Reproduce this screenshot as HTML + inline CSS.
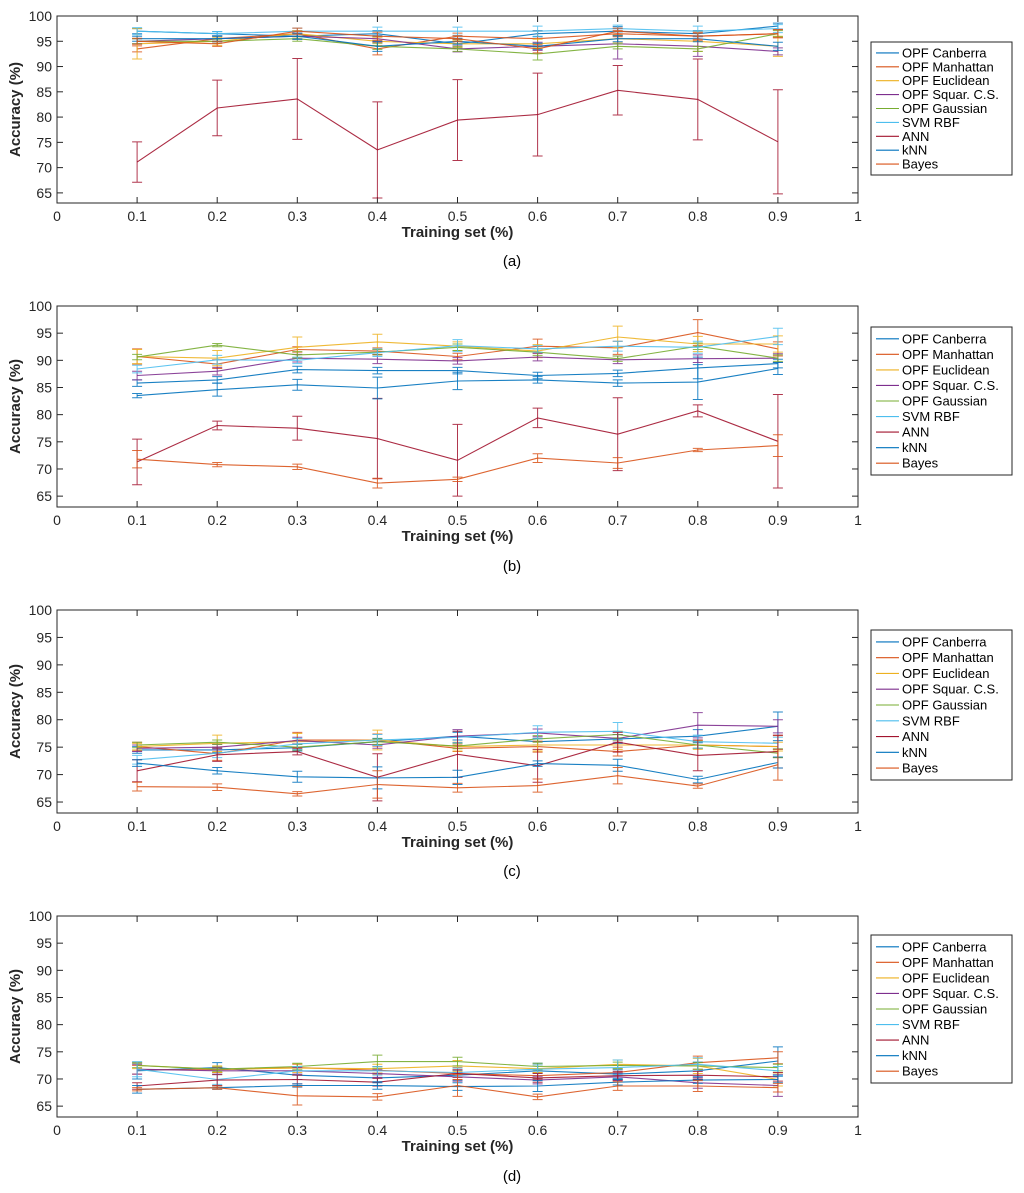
<!DOCTYPE html>
<html><head><meta charset="utf-8"><style>
body{margin:0;background:#fff;width:1024px;height:1193px;overflow:hidden}
svg{display:block}
text{font-family:"Liberation Sans",sans-serif}
</style></head><body>
<svg id="chart" width="1024" height="1193" xmlns="http://www.w3.org/2000/svg"></svg>
<script>
const xTicks=[0,0.1,0.2,0.3,0.4,0.5,0.6,0.7,0.8,0.9,1];
const xLabels=["0","0.1","0.2","0.3","0.4","0.5","0.6","0.7","0.8","0.9","1"];
const yTicks=[65,70,75,80,85,90,95,100];
const trainX=[0.1,0.2,0.3,0.4,0.5,0.6,0.7,0.8,0.9];
const seriesNames=["OPF Canberra","OPF Manhattan","OPF Euclidean","OPF Squar. C.S.","OPF Gaussian","SVM RBF","ANN","kNN","Bayes"];
const seriesColors=["#0072BD","#D95319","#EDB120","#7E2F8E","#77AC30","#4DBEEE","#A2142F","#0072BD","#D95319"];
const captions=["(a)","(b)","(c)","(d)"];
// panel (a)
const aVals=[
[97,96.5,96,96.5,94.5,96.5,97,96.5,98],
[93.5,95.5,96.5,93.5,96,95.5,96.5,96,96.5],
[94.5,95,96.5,95,94.5,94.5,95.5,95,94],
[95,95.5,96,95.5,93.5,94,94.5,94,93],
[95,95,95.5,94,93.5,92.5,94,93.5,96.5],
[97,96.5,97,97,97,97,97.5,97,97.5],
[71.1,81.8,83.6,73.5,79.4,80.5,85.3,83.5,75.1],
[95.5,95.5,96,94,95,94,95.5,95.5,94],
[95,94.5,97,96,95.5,93.5,97,96,96.5]];
const aErr=[
[0.5,0.4,0.5,0.6,0.8,0.6,0.9,0.6,0.6],
[0.6,0.5,0.6,1.2,0.6,1.5,0.6,0.8,0.8],
[3,0.8,0.6,0.8,0.7,0.9,0.7,2,2],
[0.5,0.6,0.6,0.6,0.6,0.8,3,2,0.7],
[0.5,0.4,0.5,0.6,0.5,1.2,0.5,0.5,0.6],
[0.7,0.4,0.6,0.8,0.8,1,0.7,1,0.8],
[4,5.5,8,9.5,8,8.2,4.9,8,10.3],
[0.5,0.5,0.6,1,0.6,0.6,0.6,0.6,0.8],
[0.6,0.5,0.6,0.8,0.6,0.8,0.6,0.6,0.8]];
// panel (b)
const bVals=[
[85.8,86.4,88.3,88.1,88.1,87.2,87.6,88.6,89.4],
[90.7,89.3,92,91.7,90.7,92.6,92.3,95.1,92.1],
[90.7,90.4,92.4,93.4,92.6,91.7,94.3,93,93],
[87.2,88,90.4,90.2,89.9,90.6,90.1,90.3,90.4],
[90.6,92.8,91,91.5,92.4,91.5,90.3,92.6,90.4],
[88.4,90.1,90,91.4,92.7,92.1,92.6,92.4,94.4],
[71.3,78,77.5,75.6,71.6,79.4,76.4,80.7,75.1],
[83.5,84.6,85.5,84.9,86.2,86.4,85.8,86,88.5],
[71.8,70.8,70.4,67.4,68.1,72,71.1,73.5,74.3]];
const bErr=[
[0.6,0.6,0.6,0.6,0.6,0.6,0.6,2,0.8],
[1.4,0.8,0.5,0.6,0.6,1.3,1.2,2.4,1.3],
[1.3,1.4,1.9,1.4,0.8,1.2,2,1.4,1.5],
[0.8,0.7,0.7,0.8,0.6,0.7,0.7,0.7,0.8],
[0.5,0.3,0.6,0.5,0.6,0.6,0.5,0.6,0.6],
[0.7,0.8,0.6,0.7,1.1,0.6,0.9,1.1,1.5],
[4.2,0.8,2.2,7.4,6.6,1.8,6.7,1.1,8.6],
[0.4,1.2,1,2,1.6,0.6,0.6,3.2,1.1],
[1.6,0.4,0.5,0.9,0.4,0.8,1,0.3,2]];
// panel (c)
const cVals=[
[74.5,74.5,74.9,76,77,76,76.5,77,78.8],
[75.1,73.8,76.3,76.3,74.8,75.1,74.2,75.4,75.1],
[75.1,75.7,76,76.3,75.1,75.4,75.4,75.4,75.1],
[74.8,75,76.2,75.4,77,77.6,76.6,79,78.8],
[75.4,75.9,75,76,75.2,76.5,77.3,75.4,73.9],
[72.7,73.9,75.6,76.3,76.8,77.7,77.9,76,75.7],
[70.7,73.6,74.2,69.5,73.7,71.6,75.9,73.5,74.2],
[72.1,70.7,69.6,69.4,69.5,72,71.7,69.1,72.2],
[67.8,67.7,66.5,68.2,67.6,68,69.8,67.9,71.8]];
const cErr=[
[0.6,0.5,0.6,0.6,0.7,0.6,0.8,1.2,2.6],
[0.8,1.2,1.4,1.1,0.6,1,0.8,0.6,2],
[0.6,1.5,1.5,1.8,0.8,1.1,0.8,0.8,0.8],
[0.6,0.5,0.6,0.6,1.2,0.7,0.7,2.3,1.2],
[0.5,0.4,0.5,0.5,0.5,0.6,0.6,0.6,0.8],
[0.8,0.8,1,1,1,1.2,1.6,1.2,1.1],
[2,1.2,0.6,4.3,4.2,3,1.8,2.8,3],
[0.6,0.6,1,2,1.3,0.5,1.1,0.6,1],
[0.8,0.6,0.4,2.5,0.8,1.2,1.5,0.4,2.8]];
// panel (d)
const dVals=[
[71.5,72.1,70.7,70.2,70.7,71.5,70.9,71.5,73.3],
[71.7,71.7,72.1,71.6,71,70.6,71.2,73,73.9],
[72.5,71.8,72,71.9,72.4,71.9,72.7,72.4,69.9],
[71.8,71.5,71.5,71,70.4,69.8,70.4,69.3,68.8],
[72.5,71.8,72.3,73.2,73.2,72.3,72.5,72.4,72.1],
[71.8,69.9,71.5,71.5,71.2,71.8,72.1,72.7,71.5],
[68.7,69.8,69.9,69.4,71,70.2,70.6,70.7,70.4],
[68.1,68.4,68.8,68.8,68.6,68.7,69.4,69.8,69.9],
[68.1,68.4,66.9,66.7,68.8,66.7,68.7,68.7,68.4]];
const dErr=[
[1.5,0.9,0.8,0.9,0.9,1.4,0.8,1.6,2.6],
[0.8,0.5,0.6,0.7,1.1,0.6,1.3,1.2,1.1],
[0.6,0.6,0.8,0.8,1,0.7,0.8,1.4,1.2],
[0.9,0.6,0.6,0.7,0.8,0.7,0.7,1,2],
[0.4,0.4,0.6,1.2,0.8,0.6,0.6,0.6,0.6],
[1.4,0.9,0.8,0.8,0.8,0.8,1.4,1.2,0.8],
[0.6,1,0.8,0.7,0.7,0.8,0.8,0.7,0.8],
[0.7,0.3,0.3,0.7,0.7,1,0.5,0.6,0.6],
[0.3,0.3,1.7,0.6,2,0.5,0.8,1,0.8]];
const panelVals=[aVals,bVals,cVals,dVals];
const panelErr=[aErr,bErr,cErr,dErr];
const panels=[
 {top:16,bottom:203,legTop:42,legBottom:175,cap:266},
 {top:306,bottom:507,legTop:327,legBottom:475,cap:571},
 {top:610,bottom:813,legTop:630,legBottom:780,cap:876},
 {top:916,bottom:1117,legTop:935,legBottom:1083,cap:1181}];
const NS="http://www.w3.org/2000/svg";
const svg=document.getElementById('chart');
const L=57,R=858,YMIN=63,YMAX=100;
function mk(tag,attrs,parent){const e=document.createElementNS(NS,tag);for(const k in attrs)e.setAttribute(k,attrs[k]);(parent||svg).appendChild(e);return e;}
const xs=v=>L+(R-L)*v;
panels.forEach((p,pi)=>{
 const ys=v=>p.bottom-(v-YMIN)/(YMAX-YMIN)*(p.bottom-p.top);
 const g=mk('g',{});
 
 
 const box=mk('rect',{x:L,y:p.top,width:R-L,height:p.bottom-p.top,fill:'#fff',stroke:'#262626','stroke-width':1},g);
 
 
 xTicks.forEach((t,i)=>{
  const x=xs(t);
  mk('line',{x1:x,x2:x,y1:p.bottom,y2:p.bottom-6,stroke:'#262626'},g);
  mk('line',{x1:x,x2:x,y1:p.top,y2:p.top+6,stroke:'#262626'},g);
  const tx=mk('text',{x:x,y:p.bottom+18,'text-anchor':'middle','font-size':14,fill:'#262626'},g);
  tx.textContent=xLabels[i];
  
  
 });
 yTicks.forEach(t=>{
  const y=ys(t);
  mk('line',{x1:L,x2:L+6,y1:y,y2:y,stroke:'#262626'},g);
  mk('line',{x1:R,x2:R-6,y1:y,y2:y,stroke:'#262626'},g);
  const tx=mk('text',{x:L-5,y:y+5,'text-anchor':'end','font-size':14,fill:'#262626'},g);
  tx.textContent=String(t);
  
  
 });
 const xt=mk('text',{x:(L+R)/2,y:p.bottom+34,'text-anchor':'middle','font-size':15,'font-weight':'bold',fill:'#262626'},g);
 xt.textContent='Training set (%)';
 
 
 const cy=(p.top+p.bottom)/2;
 const yt=mk('text',{x:20,y:cy,'text-anchor':'middle','font-size':15,'font-weight':'bold',fill:'#262626',transform:'rotate(-90 20 '+cy+')'},g);
 yt.textContent='Accuracy (%)';
 
 
 const cap=mk('text',{x:512,y:p.cap,'text-anchor':'middle','font-size':15,fill:'#000','font-family':'Liberation Serif, serif'},g);
 cap.textContent=captions[pi];
 
 
 const vals=panelVals[pi],errs=panelErr[pi];
 vals.forEach((s,si)=>{
  const col=seriesColors[si];
  const sg=mk('g',{},g);
  
  
  const pts=s.map((v,i)=>xs(trainX[i]).toFixed(1)+','+ys(v).toFixed(1)).join(' ');
  mk('polyline',{points:pts,fill:'none',stroke:col,'stroke-width':1.1,'stroke-opacity':0.9},sg);
  s.forEach((v,i)=>{
   const x=xs(trainX[i]),e=errs[si][i];
   const y1=ys(v+e),y2=ys(v-e);
   const eb=mk('path',{d:`M${x},${y1}V${y2}M${x-5},${y1}H${x+5}M${x-5},${y2}H${x+5}`,stroke:col,'stroke-width':1,fill:'none','stroke-opacity':0.85},sg);
   
   
  });
 });
 const lg=mk('g',{},g);
 
 
 mk('rect',{x:871,y:p.legTop,width:141,height:p.legBottom-p.legTop,fill:'#fff',stroke:'#262626','stroke-width':1},lg);
 const step=(p.legBottom-p.legTop-8)/seriesNames.length;
 seriesNames.forEach((n,i)=>{
  const y=p.legTop+4+step*(i+0.5);
  const en=mk('g',{},lg);
  
  
  mk('line',{x1:876,x2:899,y1:y,y2:y,stroke:seriesColors[i],'stroke-width':1.1},en);
  const t=mk('text',{x:902,y:y+4.5,'font-size':13,fill:'#000'},en);
  t.textContent=n;
 });
});
</script>
</body></html>
